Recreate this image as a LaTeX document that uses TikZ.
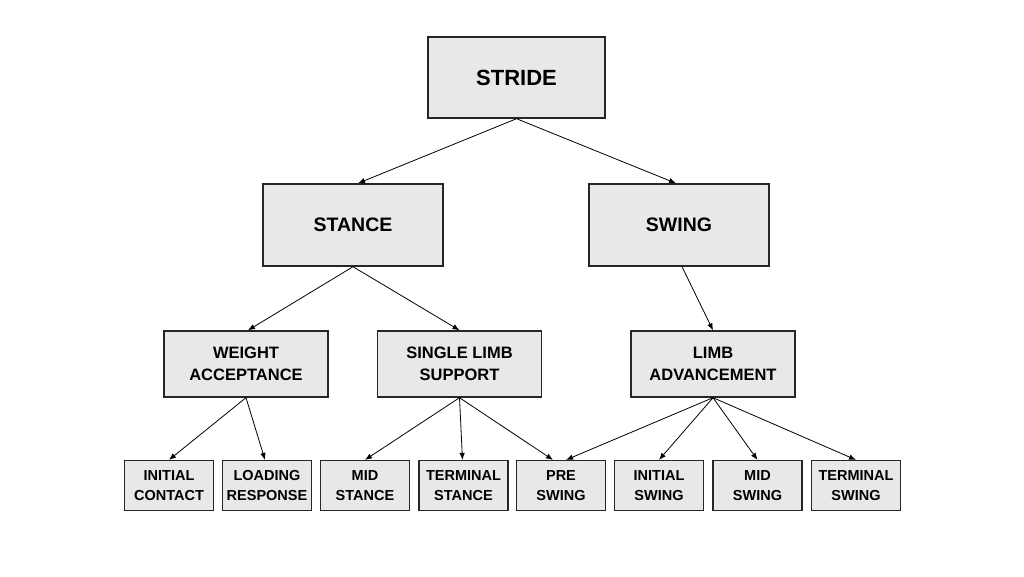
\documentclass[tikz,border=0pt]{standalone}
\usepackage{fontspec}
\setmainfont{Liberation Sans}
\usetikzlibrary{arrows.meta}
\begin{document}
\begin{tikzpicture}[x=1pt,y=-1pt,
  box/.style={draw=black!85,line width=1.4pt,fill=black!9,inner sep=0pt,align=center,font=\bfseries},
  topbox/.style={box,minimum width=177pt,minimum height=81pt,font=\bfseries\fontsize{22}{26}\selectfont},
  midbox/.style={box,minimum width=180pt,minimum height=82pt,font=\bfseries\fontsize{19.5}{23}\selectfont},
  subbox/.style={box,minimum width=164pt,minimum height=66pt,font=\bfseries\fontsize{16.5}{22}\selectfont},
  leaf/.style={box,line width=1.2pt,minimum width=89pt,minimum height=50pt,font=\bfseries\fontsize{14.5}{19.5}\selectfont},
  arr/.style={-{Latex[length=7pt,width=5.5pt]},line width=0.8pt,black}]
\useasboundingbox (0,0) rectangle (1024,576);
\node[topbox] (stride) at (516.5,77.5) {STRIDE};
\node[midbox] (stance) at (353,225) {STANCE};
\node[midbox] (swing) at (679,225) {SWING};
\node[subbox] (wa) at (246,364) {WEIGHT\\ACCEPTANCE};
\node[subbox] (sls) at (459.5,364) {SINGLE LIMB\\SUPPORT};
\node[subbox] (la) at (713,364) {LIMB\\ADVANCEMENT};
\node[leaf] (ic) at (169,485.5) {INITIAL\\CONTACT};
\node[leaf] (lr) at (267,485.5) {LOADING\\RESPONSE};
\node[leaf] (ms) at (365,485.5) {MID\\STANCE};
\node[leaf] (ts) at (463.5,485.5) {TERMINAL\\STANCE};
\node[leaf] (ps) at (561,485.5) {PRE\\SWING};
\node[leaf] (is) at (659,485.5) {INITIAL\\SWING};
\node[leaf] (mw) at (757.5,485.5) {MID\\SWING};
\node[leaf] (tw) at (856,485.5) {TERMINAL\\SWING};
\draw[arr] (stride.south) -- ([xshift=5pt]stance.north);
\draw[arr] (stride.south) -- ([xshift=-3pt]swing.north);
\draw[arr] (stance.south) -- ([xshift=2pt]wa.north);
\draw[arr] (stance.south) -- (sls.north);
\draw[arr] ([xshift=3pt]swing.south) -- (la.north);
\draw[arr] (wa.south) -- (ic.north);
\draw[arr] (wa.south) -- ([xshift=-2pt]lr.north);
\draw[arr] (sls.south) -- (ms.north);
\draw[arr] (sls.south) -- ([xshift=-1pt]ts.north);
\draw[arr] (sls.south) -- ([xshift=-8pt]ps.north);
\draw[arr] (la.south) -- ([xshift=5pt]ps.north);
\draw[arr] (la.south) -- (is.north);
\draw[arr] (la.south) -- (mw.north);
\draw[arr] (la.south) -- (tw.north);
\end{tikzpicture}
\end{document}
